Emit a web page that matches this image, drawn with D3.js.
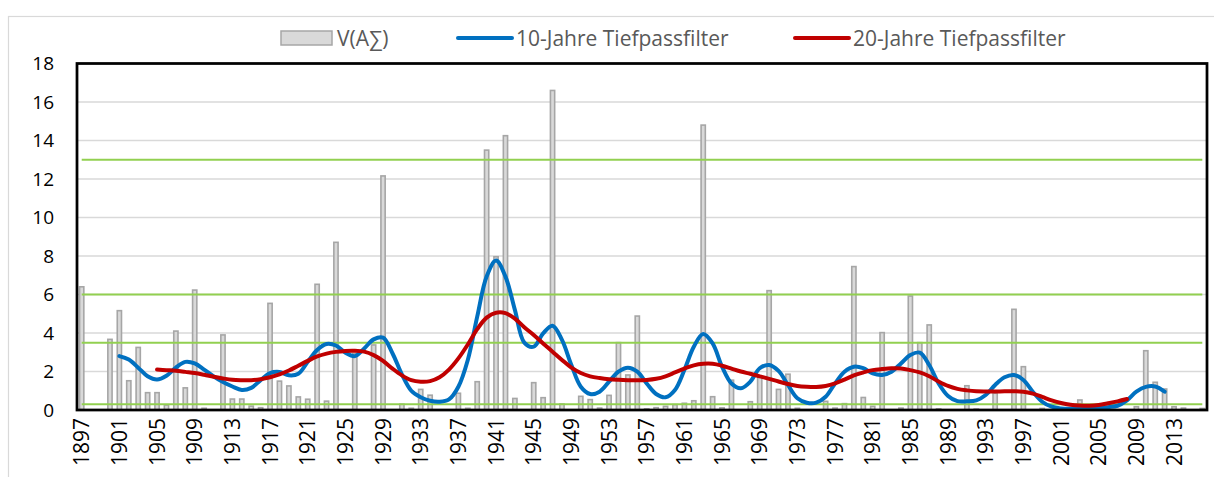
<!DOCTYPE html>
<html>
<head>
<meta charset="utf-8">
<script src="https://cdn.jsdelivr.net/npm/d3@7"></script>
<style>
  html, body { margin: 0; padding: 0; background: #fff; }
  svg { display: block; font-family: "Open Sans", sans-serif; }
</style>
</head>
<body>
<div id="chart"></div>
<script>
// Jahre (Kategorien)
const years = d3.range(1897, 2017);

// V(AΣ) je Jahr, 1897..2016
const sumValues = [
  6.4, 0, 0, 3.67, 5.16, 1.52, 3.25, 0.9, 0.9, 0.26,
  4.1, 1.15, 6.23, 0.09, 0, 3.9, 0.57, 0.57, 0.2, 0.12,
  5.54, 1.5, 1.25, 0.68, 0.56, 6.53, 0.46, 8.71, 0, 2.94,
  0, 3.38, 12.16, 0, 0.3, 0.09, 1.07, 0.77, 0, 0,
  0.87, 0.09, 1.47, 13.5, 7.96, 14.25, 0.6, 0, 1.42, 0.64,
  16.6, 0.31, 0, 0.71, 0.54, 0.1, 0.76, 3.5, 1.82, 4.88,
  0.06, 0.12, 0.19, 0.28, 0.35, 0.48, 14.8, 0.69, 0.11, 1.55,
  0, 0.43, 1.7, 6.2, 1.07, 1.86, 0.09, 0, 0, 0.45,
  0.1, 0.33, 7.45, 0.65, 0.19, 4.02, 0, 0.1, 5.92, 3.5,
  4.42, 0.06, 0, 0, 1.26, 0.05, 0, 0.87, 0, 5.23,
  2.25, 0, 0.08, 0, 0, 0, 0.52, 0, 0, 0,
  0, 0, 0.17, 3.08, 1.44, 1.09, 0.17, 0.1, 0, 0.08
];

// 10-Jahre Tiefpassfilter, 1901..2012
const lp10Start = 1901;
const lp10 = [
  2.8, 2.62, 2.2, 1.75, 1.58, 1.78, 2.2, 2.5, 2.42, 2.1,
  1.75, 1.45, 1.22, 1.04, 1.15, 1.55, 1.92, 1.98, 1.8, 1.88,
  2.5, 3.12, 3.43, 3.35, 2.98, 2.8, 3.2, 3.67, 3.76, 2.95,
  1.85, 1.0, 0.66, 0.48, 0.43, 0.55, 1.21, 2.6, 4.85, 6.93,
  7.76, 6.93, 5.2, 3.5, 3.29, 3.98, 4.38, 3.64, 2.34, 1.21,
  0.83, 0.95, 1.47, 1.99, 2.2, 1.99, 1.38, 0.83, 0.66, 1.04,
  2.08, 3.29, 3.95, 3.46, 2.25, 1.38, 1.13, 1.47, 2.17, 2.34,
  2.03, 1.3, 0.61, 0.38, 0.38, 0.69, 1.38, 1.99, 2.25, 2.17,
  1.9, 1.82, 1.99, 2.42, 2.86, 2.98, 2.34, 1.38, 0.73, 0.46,
  0.45, 0.5, 0.78, 1.3, 1.7, 1.82, 1.56, 0.95, 0.43, 0.17,
  0.08, 0.06, 0.06, 0.07, 0.1, 0.15, 0.22, 0.5, 0.95, 1.2,
  1.22, 0.95
];

// 20-Jahre Tiefpassfilter, 1905..2008
const lp20Start = 1905;
const lp20 = [
  2.1, 2.07, 2.04, 1.98, 1.92, 1.83, 1.73, 1.64, 1.57, 1.55,
  1.55, 1.6, 1.7, 1.85, 2.05, 2.3, 2.55, 2.78, 2.93, 3.02,
  3.07, 3.08, 3.03, 2.85, 2.55, 2.15, 1.8, 1.55, 1.47, 1.5,
  1.7, 2.1, 2.68, 3.4, 4.2, 4.8, 5.05, 5.03, 4.75, 4.3,
  3.9, 3.46, 3.03, 2.6, 2.2, 1.92, 1.75, 1.66, 1.6, 1.57,
  1.55, 1.54, 1.56, 1.62, 1.75, 1.95, 2.15, 2.32, 2.4, 2.4,
  2.3, 2.15, 2.0, 1.88, 1.75, 1.62, 1.48, 1.35, 1.25, 1.21,
  1.2, 1.25, 1.38, 1.58, 1.8, 1.95, 2.07, 2.13, 2.17, 2.16,
  2.07, 1.95, 1.75, 1.48, 1.25, 1.1, 1.02, 0.97, 0.96, 0.96,
  0.97, 0.97, 0.95, 0.85, 0.68, 0.5, 0.36, 0.27, 0.23, 0.22,
  0.26, 0.35, 0.45, 0.57
];

// Grüne Schwellenlinien
const thresholds = [0.3, 3.5, 6, 13];

const yTicks = [0, 2, 4, 6, 8, 10, 12, 14, 16, 18];
const xLabelYears = years.filter((y, i) => i % 4 === 0);

const legendItems = [
  { label: "V(A∑)", type: "bar" },
  { label: "10-Jahre Tiefpassfilter", type: "line", color: "#0070C0" },
  { label: "20-Jahre Tiefpassfilter", type: "line", color: "#C00000" }
];

const width = 1214, height = 477;
const plot = { left: 77, right: 1207, top: 63.5, bottom: 410 };

const svg = d3.select("#chart").append("svg")
  .attr("width", width)
  .attr("height", height);

// Rahmen des Diagrammbereichs
svg.append("rect")
  .attr("x", 8.5).attr("y", 16.5)
  .attr("width", width + 20).attr("height", height + 20)
  .attr("fill", "#fff")
  .attr("stroke", "#d9d9d9")
  .attr("stroke-width", 1.2);

const x = d3.scaleBand()
  .domain(years)
  .range([plot.left, plot.right])
  .paddingInner(0.55)
  .paddingOuter(0.275);

const cx = yr => x(yr) + x.bandwidth() / 2;

const y = d3.scaleLinear()
  .domain([0, 18])
  .range([plot.bottom, plot.top]);

// Gitterlinien
svg.append("g")
  .selectAll("line")
  .data(yTicks.filter(t => t > 0 && t < 18))
  .join("line")
  .attr("x1", plot.left).attr("x2", plot.right)
  .attr("y1", d => y(d)).attr("y2", d => y(d))
  .attr("stroke", "#d9d9d9")
  .attr("stroke-width", 1.5);

// Balken
const barData = years.map((yr, i) => ({ year: yr, value: sumValues[i] }));
svg.append("g")
  .selectAll("rect")
  .data(barData)
  .join("rect")
  .attr("x", d => x(d.year))
  .attr("y", d => y(d.value))
  .attr("width", x.bandwidth())
  .attr("height", d => y(0) - y(d.value))
  .attr("fill", "#d9d9d9")
  .attr("stroke", "#a6a6a6")
  .attr("stroke-width", 1.6);

// Schwellenlinien
svg.append("g")
  .selectAll("line")
  .data(thresholds)
  .join("line")
  .attr("x1", cx(years[0])).attr("x2", cx(years[years.length - 1]))
  .attr("y1", d => y(d)).attr("y2", d => y(d))
  .attr("stroke", "#92D050")
  .attr("stroke-width", 2);

// Tiefpassfilter-Linien
const line = d3.line()
  .x(d => cx(d.year))
  .y(d => y(d.value))
  .curve(d3.curveCatmullRom.alpha(0.5));

const series = [
  { start: lp10Start, values: lp10, color: "#0070C0" },
  { start: lp20Start, values: lp20, color: "#C00000" }
];

series.forEach(s => {
  const pts = s.values.map((v, i) => ({ year: s.start + i, value: v }));
  svg.append("path")
    .datum(pts)
    .attr("fill", "none")
    .attr("stroke", s.color)
    .attr("stroke-width", 4)
    .attr("stroke-linejoin", "round")
    .attr("stroke-linecap", "round")
    .attr("d", line);
});

// Plotrahmen
svg.append("rect")
  .attr("x", plot.left).attr("y", plot.top)
  .attr("width", plot.right - plot.left)
  .attr("height", plot.bottom - plot.top)
  .attr("fill", "none")
  .attr("stroke", "#000")
  .attr("stroke-width", 2.75);

// Y-Achse
svg.append("g")
  .selectAll("text")
  .data(yTicks)
  .join("text")
  .attr("x", 54)
  .attr("y", d => y(d))
  .attr("dy", "0.36em")
  .attr("text-anchor", "end")
  .style("font-size", "19px")
  .attr("fill", "#000")
  .text(d => d);

// X-Achse (gedreht)
svg.append("g")
  .selectAll("text")
  .data(xLabelYears)
  .join("text")
  .attr("transform", d => `translate(${cx(d)},418) rotate(-90)`)
  .attr("dy", "0.36em")
  .attr("text-anchor", "end")
  .style("font-size", "21px")
  .attr("fill", "#000")
  .text(d => d);

// Legende
const legendX = [281, 458, 795];
const legend = svg.append("g");
legendItems.forEach((item, i) => {
  const g = legend.append("g").attr("transform", `translate(${legendX[i]},38)`);
  if (item.type === "bar") {
    g.append("rect")
      .attr("x", 0).attr("y", -7)
      .attr("width", 51).attr("height", 14)
      .attr("fill", "#d9d9d9")
      .attr("stroke", "#a6a6a6")
      .attr("stroke-width", 1.5);
  } else {
    g.append("line")
      .attr("x1", 0).attr("x2", 54)
      .attr("stroke", item.color)
      .attr("stroke-width", 4)
      .attr("stroke-linecap", "round");
  }
  g.append("text")
    .attr("x", item.type === "bar" ? 56 : 58)
    .attr("dy", "0.36em")
    .style("font-size", "21px")
    .attr("fill", "#595959")
    .text(item.label);
});
</script>
</body>
</html>
